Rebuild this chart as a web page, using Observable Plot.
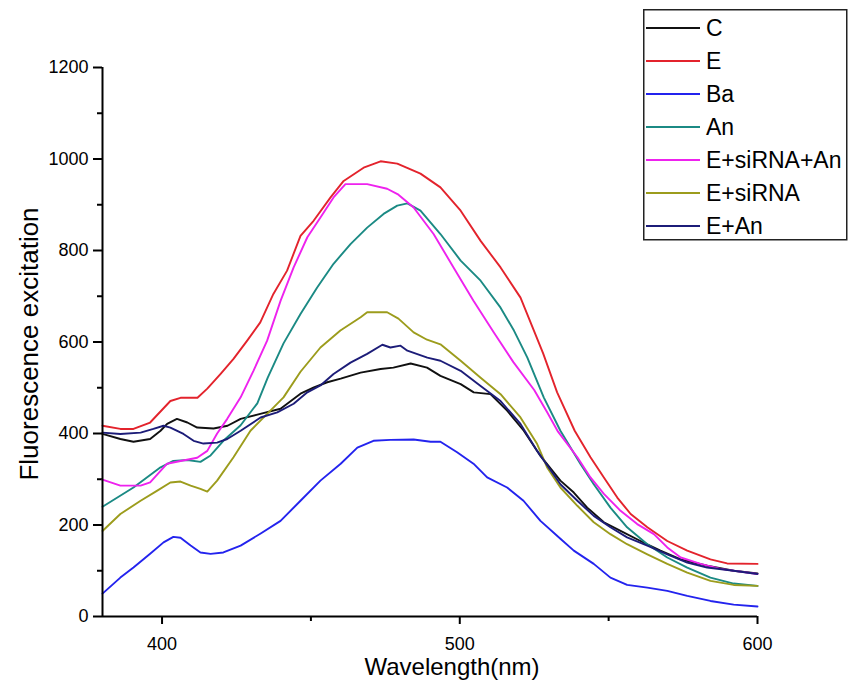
<!DOCTYPE html>
<html>
<head>
<meta charset="utf-8">
<script src="https://cdn.jsdelivr.net/npm/d3@7"></script>
<script src="https://cdn.jsdelivr.net/npm/@observablehq/plot@0.6"></script>
<style>
  html, body { margin: 0; padding: 0; background: #fff; }
  #wrap { position: relative; width: 849px; height: 684px; font-family: "Liberation Sans", Arial, sans-serif; }
  #legend { position: absolute; left: 643px; top: 9px; }
</style>
</head>
<body>
<div id="wrap"></div>
<script>
// ---- data (wavelength nm, fluorescence) ----
const seriesNames = ["C", "E", "Ba", "An", "E+siRNA+An", "E+siRNA", "E+An"];
const seriesColors = ["#111111", "#e3232c", "#2323ee", "#1b8a84", "#ee22ee", "#9c9c1c", "#1c1c78"];

const C = [[380,399],[386,388],[390.4,382],[396,388],[399.5,406],[401.7,421],[405,432],[408.5,424],[411.8,413],[417.3,411],[422,417],[426.4,432],[433,443],[439.8,454],[446.5,487],[451,501],[455.5,512],[460,520],[466.7,533],[473.4,541],[477.7,544],[483.5,553],[489,544],[493.5,526],[500.3,508],[504.7,490],[510.3,486],[515.9,450],[521.5,406],[527.1,351],[533.8,297],[538.3,271],[542.8,238],[548.4,206],[554,187],[560.7,165],[567.4,144],[574.2,125],[583.1,111],[592,100],[600,94]];

const E = [[380,417],[386,410],[390.4,410],[396,424],[402.8,471],[406.2,478],[411.9,478],[415.2,498],[419.6,530],[424,563],[428.6,603],[433,643],[437.4,705],[442,756],[446.5,832],[450.9,865],[456.6,916],[461,952],[467.7,981],[473.4,995],[479,990],[486.8,968],[493.5,938],[500.3,887],[507,821],[513.7,763],[520.4,697],[524.9,625],[528,575],[532.7,490],[538.6,406],[543.9,348],[548.4,304],[552.9,260],[557.4,224],[563,195],[569.7,165],[576.4,144],[584.2,125],[589.8,116],[600,115]];

const Ba = [[380,50],[386,85],[390.4,107],[396,137],[400.5,162],[403.8,174],[406.2,172],[409.6,155],[412.9,140],[416.3,137],[420.6,140],[426.4,155],[433,181],[439.8,209],[446.5,253],[453.2,297],[460,334],[465.6,369],[471,384],[476.7,386],[484.5,387],[490.2,382],[493.5,382],[499.1,359],[504.6,334],[509.2,304],[515.9,282],[521.4,253],[527.1,209],[533.8,170],[538.3,144],[545,115],[550.6,85],[556.2,69],[563,63],[569.7,56],[576.4,45],[584.2,34],[592,26],[600,22]];

const An = [[380,240],[390.4,282],[399.5,326],[403.8,340],[408.5,342],[412.9,338],[416.3,352],[420.6,384],[426.4,418],[432,466],[435.5,522],[440.8,597],[446.5,661],[452.1,719],[457.6,771],[463.3,814],[468.9,850],[474.4,880],[479,898],[482.4,903],[486.8,887],[493.5,836],[500.3,778],[507,734],[513.7,675],[518.2,625],[522.7,566],[528.2,479],[533.8,406],[540.6,333],[545,289],[550.6,238],[556.2,195],[563,158],[569.7,129],[576.4,107],[584.2,85],[592,72],[600,67]];

const EsiAn = [[380,299],[386,286],[392.8,286],[396,293],[401.7,334],[406.2,340],[411.8,347],[415.2,362],[418.5,400],[421.9,432],[426.4,479],[430.7,537],[435.3,603],[439.8,690],[444.2,763],[448.8,829],[453.2,872],[457.6,916],[461.6,945],[468.9,945],[475.6,935],[479.4,922],[484.5,894],[491.2,836],[497.9,763],[504.6,690],[511.5,620],[518,556],[525,495],[529.4,446],[533,404],[539.5,348],[543.9,304],[548.4,268],[554,231],[559.6,202],[565.2,180],[569.7,151],[574.2,129],[580.9,115],[587.6,104],[600,93]];

const Esi = [[380,187],[386,224],[392.8,253],[398.4,275],[402.8,293],[406.2,295],[409.6,286],[412.9,279],[415.2,273],[418.5,297],[424,348],[429.7,406],[435.3,443],[440.8,479],[446.5,535],[453.2,588],[459.9,625],[466.7,654],[468.9,665],[475.6,665],[479.4,651],[484.5,621],[489,605],[493.5,595],[500.3,559],[507,522],[513.7,486],[520.4,435],[526,377],[529.4,325],[533.8,282],[539.5,242],[545,206],[550.6,180],[556.2,158],[563,136],[569.7,115],[576.4,96],[584.2,78],[592,69],[600,67]];

const EAn = [[380,402],[386,399],[392.8,402],[397.1,410],[400.5,417],[402.8,413],[407.2,399],[410.6,384],[413.9,378],[418.5,380],[421.9,388],[426.4,406],[433.1,435],[438.7,446],[444.2,465],[448.8,490],[453.2,505],[457.6,530],[463.3,555],[468.9,574],[474,594],[476.7,588],[480.1,592],[482.4,581],[489.1,566],[493.5,559],[500.3,537],[507,504],[513.7,471],[520.4,421],[526,362],[533.8,289],[539.5,253],[545,220],[550.6,195],[556.2,173],[563,155],[569.7,136],[576.4,118],[583.1,107],[592,100],[600,93]];

const seriesData = [C, E, Ba, An, EsiAn, Esi, EAn];

const xTicks = [400, 500, 600];
const xMinorTicks = [450, 550];
const yTicks = [0, 200, 400, 600, 800, 1000, 1200];
const yMinorTicks = [100, 300, 500, 700, 900, 1100];
const xLabel = "Wavelength(nm)";
const yLabel = "Fluorescence excitation";

// ---- chart ----
const lineMarks = seriesData.map((s, i) =>
  Plot.line(s, {x: d => d[0], y: d => d[1], stroke: seriesColors[i], strokeWidth: 1.9})
);

const chart = Plot.plot({
  width: 849,
  height: 684,
  marginLeft: 102,
  marginRight: 92,
  marginTop: 67,
  marginBottom: 68,
  style: {fontFamily: "'Liberation Sans', Arial, sans-serif", fontSize: "18px", color: "#000", background: "#fff"},
  x: {domain: [380, 600]},
  y: {domain: [0, 1200]},
  marks: [
    Plot.axisX({ticks: xTicks, tickSize: 8, tickPadding: 13, label: null, strokeWidth: 2, fontSize: 18, tickFormat: "d"}),
    Plot.axisX({ticks: xMinorTicks, tickSize: 5, text: null, label: null, strokeWidth: 2}),
    Plot.axisY({ticks: yTicks, tickSize: 9, tickPadding: 5, label: null, strokeWidth: 2, fontSize: 18, tickFormat: "d"}),
    Plot.axisY({ticks: yMinorTicks, tickSize: 5, text: null, label: null, strokeWidth: 2}),
    ...lineMarks,
    Plot.ruleX([380], {stroke: "#000", strokeWidth: 2}),
    Plot.ruleY([0], {stroke: "#000", strokeWidth: 2}),
    Plot.text([xLabel], {text: d => d, frameAnchor: "bottom", dx: 22, dy: 58, lineAnchor: "bottom", textAnchor: "middle", fontSize: 24}),
    Plot.text([yLabel], {text: d => d, frameAnchor: "left", rotate: -90, dx: -65, dy: 2, lineAnchor: "bottom", textAnchor: "middle", fontSize: 26})
  ]
});
document.getElementById("wrap").appendChild(chart);

// ---- legend (overlaid, top right) ----
const lgW = 203, lgH = 230, rowH = 33;
const lg = d3.select("#wrap").append("svg")
  .attr("id", "legend")
  .attr("width", lgW + 2).attr("height", lgH + 2)
  .style("font-family", "'Liberation Sans', Arial, sans-serif");
lg.append("rect").attr("x", 0.75).attr("y", 0.75).attr("width", lgW).attr("height", lgH)
  .attr("fill", "#fff").attr("stroke", "#222").attr("stroke-width", 1.5);
const rows = lg.selectAll("g.row").data(seriesNames).join("g")
  .attr("transform", (d, i) => `translate(0,${19 + i * rowH})`);
rows.append("line").attr("x1", 3).attr("x2", 57).attr("y1", 0).attr("y2", 0)
  .attr("stroke", (d, i) => seriesColors[i]).attr("stroke-width", 2);
rows.append("text").attr("x", 63).attr("y", 0).attr("dy", "0.36em")
  .attr("font-size", 23).attr("fill", "#000").text(d => d);
</script>
</body>
</html>
